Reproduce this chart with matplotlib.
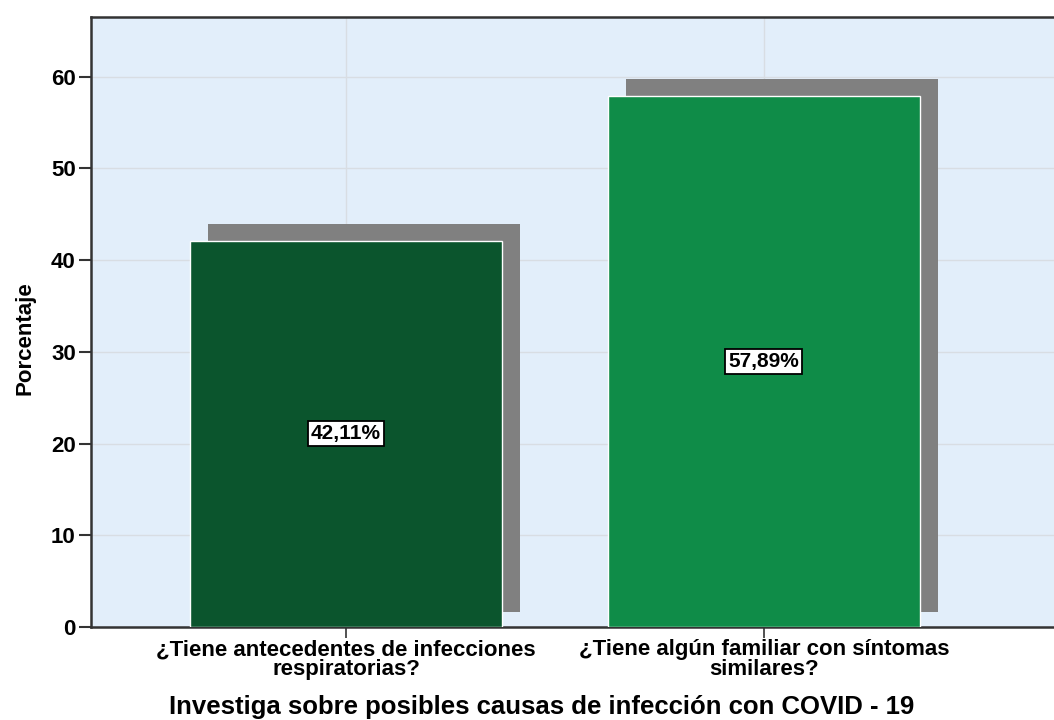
import matplotlib
matplotlib.use("Agg")
import matplotlib.pyplot as plt
from matplotlib.patches import Rectangle

plt.rcParams["font.family"] = ["Liberation Sans", "DejaVu Sans"]
plt.rcParams["font.weight"] = "bold"

categories = ["¿Tiene antecedentes de infecciones\nrespiratorias?",
              "¿Tiene algún familiar con síntomas\nsimilares?"]
values = [42.11, 57.89]
labels = ["42,11%", "57,89%"]
colors = ["#0B552D", "#0F8C48"]
yticks = [0, 10, 20, 30, 40, 50, 60]

fig = plt.figure(figsize=(10.54, 7.2), dpi=100)
ax = fig.add_axes([91/1054, 1 - 627/720, 1 - 91/1054, (627 - 17)/720])
ax.set_facecolor("#E2EEFA")

x = list(range(len(values)))
width = 0.746
dx, dy = 0.043, 1.85

# shadows behind the bars
for xi, v in zip(x, values):
    ax.add_patch(Rectangle((xi - width/2 + dx, 1.6), width, v + dy - 1.6,
                           facecolor="#808080", edgecolor="none", zorder=2))

ax.bar(x, values, width=width, color=colors, edgecolor="white", linewidth=1, zorder=3)

for xi, v, lab in zip(x, values, labels):
    ax.text(xi, v/2, lab, ha="center", va="center", fontsize=15, fontweight="bold", zorder=4,
            bbox=dict(boxstyle="square,pad=0.15", facecolor="white", edgecolor="black", linewidth=1.3))

ax.set_xlim(-0.61, 1.694)
ax.set_ylim(0, 66.5)
ax.set_yticks(yticks)
ax.set_xticks(x)
ax.set_xticklabels(categories, fontsize=16, fontweight="bold", linespacing=0.9)
ax.tick_params(axis="y", labelsize=16, length=9, width=1.5, color="#333333", pad=2)
ax.tick_params(axis="x", length=8, width=1.2, color="#333333", pad=1)
for t in ax.get_yticklabels():
    t.set_fontweight("bold")

ax.grid(True, color="#D8DDE3", linewidth=1, zorder=0)
ax.set_axisbelow(True)
for s in ["left", "bottom", "top"]:
    ax.spines[s].set_color("#333333")
    ax.spines[s].set_linewidth(1.8)
ax.spines["right"].set_visible(False)

fig.text(25/1054, 1 - 338/720, "Porcentaje", rotation=90, ha="center", va="center",
         fontsize=16, fontweight="bold")
fig.text(542/1054, 1 - 707/720, "Investiga sobre posibles causas de infección con COVID - 19",
         ha="center", va="center", fontsize=18.5, fontweight="bold")

fig.savefig("out.png", dpi=100)
